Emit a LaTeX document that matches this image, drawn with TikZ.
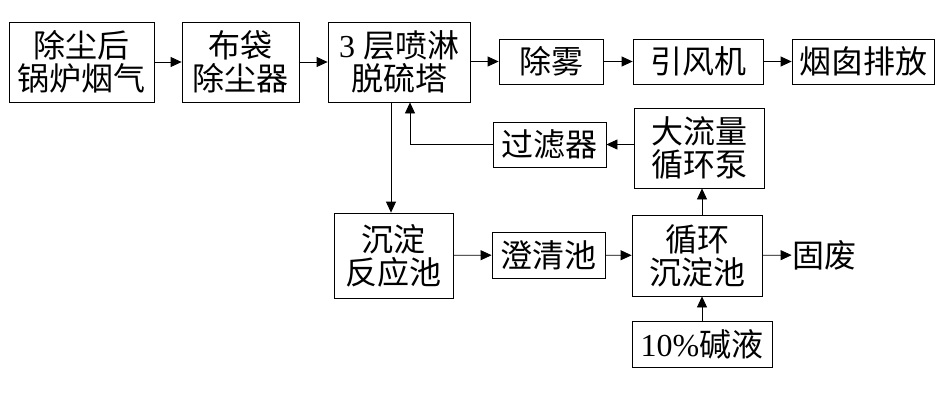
\documentclass[tikz,border=0pt]{standalone}
\usepackage{fontspec}
\setmainfont{Liberation Serif}
\newfontfamily\cjk{Noto Sans CJK SC}
\usetikzlibrary{arrows.meta}

\tikzset{
	box/.style = {draw, line width=0.8pt, align=center, inner sep=0pt,
		font=\cjk\fontsize{32}{33}\selectfont},
	flow/.style = {-{Triangle[length=11pt,width=10pt]}, line width=0.8pt}
}

\begin{document}
\begin{tikzpicture}[x=1pt,y=-1pt]
	\useasboundingbox (0,0) rectangle (944,402);

	\node[box, minimum width=145pt, minimum height=80pt] (flue) at (81.5,62) {除尘后\\锅炉烟气};
	\node[box, minimum width=117pt, minimum height=80pt] (bag) at (240.5,62) {布袋\\除尘器};
	\node[box, minimum width=142pt, minimum height=80pt] (tower) at (399,62) {\textrm{3\ }层喷淋\\脱硫塔};
	\node[box, minimum width=104pt, minimum height=45pt] (demist) at (551,61.5) {除雾};
	\node[box, minimum width=130pt, minimum height=45pt] (fan) at (698,61.5) {引风机};
	\node[box, minimum width=142pt, minimum height=45pt] (stack) at (863,61.5) {烟囱排放};

	\node[box, minimum width=113pt, minimum height=45pt] (filter) at (549.5,144.5) {过滤器};
	\node[box, minimum width=130pt, minimum height=80pt] (pump) at (699,148) {大流量\\循环泵};

	\node[box, minimum width=119pt, minimum height=85pt] (react) at (393.5,255.5) {沉淀\\反应池};
	\node[box, minimum width=113pt, minimum height=46pt] (clarify) at (548.5,255) {澄清池};
	\node[box, minimum width=130pt, minimum height=81pt] (recirc) at (697,255.5) {循环\\沉淀池};
	\node[box, draw=none] (waste) at (824,255) {固废};
	\node[box, minimum width=140pt, minimum height=46pt] (alkali) at (702,344) {\textrm{10\%}碱液};

	\draw[flow] (flue) -- (bag);
	\draw[flow] (bag) -- (tower);
	\draw[flow] (tower.east |- demist) -- (demist);
	\draw[flow] (demist) -- (fan);
	\draw[flow] (fan) -- (stack);

	\draw[flow] ([xshift=-8pt]tower.south) -- ([xshift=-8pt]tower.south |- react.north);
	\draw[flow] (filter.west) -| ([xshift=11pt]tower.south);
	\draw[flow] (pump.west |- filter) -- (filter);

	\draw[flow] (react) -- (clarify);
	\draw[flow] (clarify) -- (recirc);
	\draw[flow] (recirc) -- (waste);
	\draw[flow] (recirc.north -| alkali) -- (pump.south -| alkali);
	\draw[flow] (alkali) -- (alkali |- recirc.south);
\end{tikzpicture}
\end{document}
